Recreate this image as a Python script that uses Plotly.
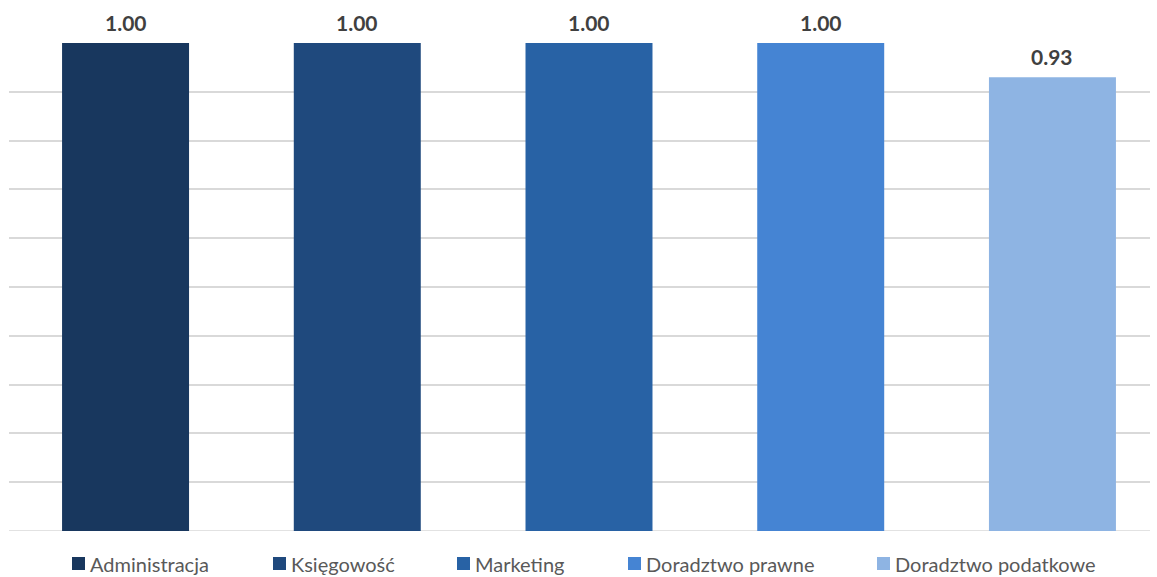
import plotly.graph_objects as go

categories = ["Administracja", "Księgowość", "Marketing", "Doradztwo prawne", "Doradztwo podatkowe"]
values = [1.00, 1.00, 1.00, 1.00, 0.93]
colors = ["#18375E", "#1F497D", "#2862A5", "#4584D3", "#8EB4E3"]

# left edge (px) of each legend swatch along the bottom row
legend_left_px = [72, 273, 457, 628, 877]

W, H = 1157, 577
PLOT_W, PLOT_H = W - 16, 488
fig = go.Figure()
for i, (name, val, col) in enumerate(zip(categories, values, colors)):
    fig.add_trace(go.Bar(
        x=[i], y=[val], name=name, width=0.548,
        marker=dict(color=col, line=dict(width=0)),
        hoverinfo="name+y",
        cliponaxis=False,
    ))
    # value label above each bar
    fig.add_annotation(
        x=i, y=val, xref="x", yref="y", text=f"<b>{val:.2f}</b>",
        showarrow=False, yanchor="bottom", yshift=6,
        font=dict(family="Lato", size=21, color="#404040"),
    )

# legend row: square swatch + label
for name, col, px in zip(categories, colors, legend_left_px):
    fig.add_shape(type="rect", xref="paper", yref="paper",
                  x0=(px - 9) / PLOT_W, x1=(px + 13 - 9) / PLOT_W,
                  y0=-(570 - 531) / PLOT_H, y1=-(557 - 531) / PLOT_H,
                  fillcolor=col, line=dict(width=0))
    fig.add_annotation(x=(px + 16 - 9) / PLOT_W, y=-(563.5 - 531) / PLOT_H,
                       xref="paper", yref="paper", xanchor="left", yanchor="middle",
                       text=name, showarrow=False,
                       font=dict(family="Lato", size=20, color="#595959"))

fig.update_layout(
    width=W, height=H,
    margin=dict(l=9, r=7, t=43, b=46),
    paper_bgcolor="white", plot_bgcolor="white",
    barmode="overlay",
    showlegend=False,
    xaxis=dict(range=[-0.503, 4.421], showticklabels=False, showgrid=False,
               zeroline=False, showline=False),
    yaxis=dict(range=[0, 1], dtick=0.1, showticklabels=False, showgrid=True,
               gridcolor="#D9D9D9", gridwidth=1.5, zeroline=False, showline=False),
)
fig.add_shape(type="line", xref="paper", yref="y", x0=0, x1=1, y0=0, y1=0,
              line=dict(color="#D9D9D9", width=1.5), layer="below")

fig.write_html("out.html")
